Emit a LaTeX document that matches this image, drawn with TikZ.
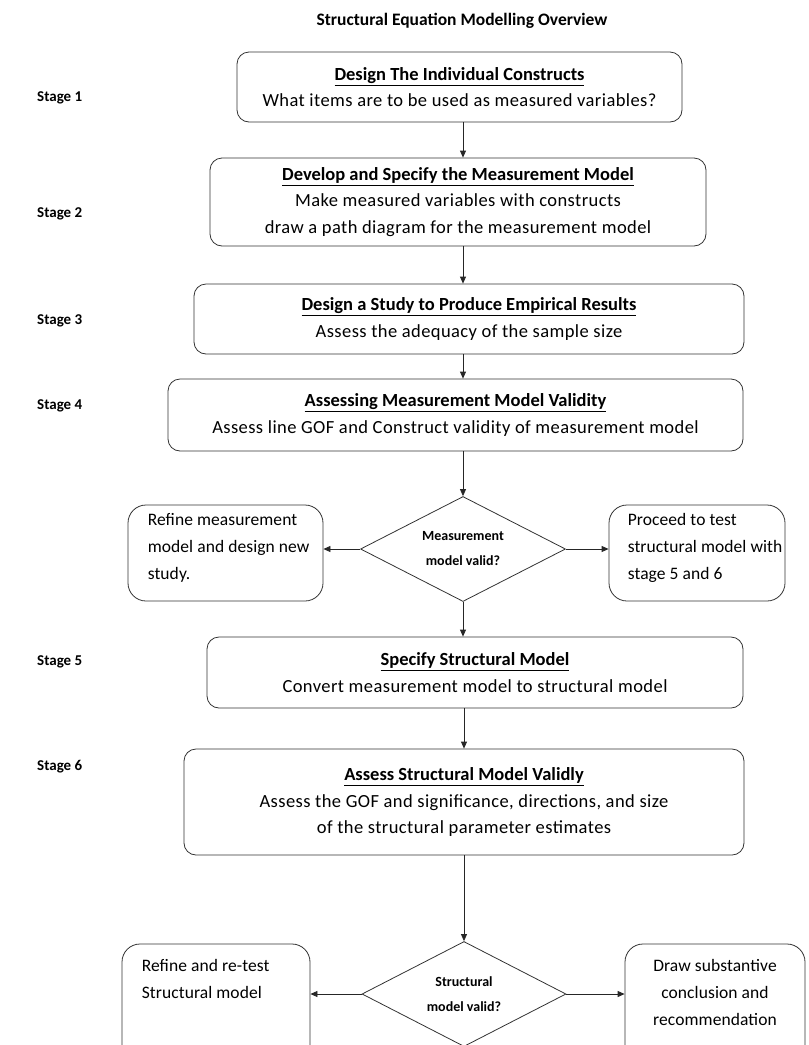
\documentclass[tikz,border=0pt]{standalone}
\usepackage{fontspec}
\setmainfont{Carlito}
\usetikzlibrary{shapes.geometric,arrows.meta}

\tikzset{
  box/.style={draw=black!80, line width=0.8pt, rounded corners=12pt,
    align=center, inner sep=0pt,
    font=\fontsize{18.5}{26.5}\selectfont\addfontfeatures{LetterSpace=2.3}},
  sidebox/.style={draw=black!80, line width=0.8pt, rounded corners=18pt, inner sep=0pt},
  sidetext/.style={align=left, anchor=north west, inner sep=0pt,
    font=\fontsize{17.5}{27}\selectfont\addfontfeatures{LetterSpace=0.5}},
  decision/.style={draw=black!80, line width=0.8pt, diamond, aspect=2, inner sep=0pt,
    align=center, font=\bfseries\fontsize{14}{25}\selectfont},
  stage/.style={font=\bfseries\fontsize{15}{18}\selectfont, anchor=west, inner sep=0pt},
  arr/.style={draw=black!85, line width=0.8pt, -{Triangle[length=7pt,width=6pt]}},
}
\newcommand{\boxtitle}[1]{{\addfontfeatures{LetterSpace=0}\textbf{\underline{#1}}}}

\begin{document}
\begin{tikzpicture}[x=1pt, y=-1pt]
\useasboundingbox (0,0) rectangle (809,1045);

% heading
\node[font=\bfseries\fontsize{17.5}{20}\selectfont] (title) at (462,21)
  {Structural Equation Modelling Overview};

% stage labels
\node[stage] (s1) at (37,98) {Stage 1};
\node[stage] (s2) at (37,214) {Stage 2};
\node[stage] (s3) at (37,321) {Stage 3};
\node[stage] (s4) at (37,406) {Stage 4};
\node[stage] (s5) at (37,662) {Stage 5};
\node[stage] (s6) at (37,767) {Stage 6};

% main stages
\node[box, minimum width=445pt, minimum height=70pt] (b1) at (459.5,87)
  {\boxtitle{Design The Individual Constructs}\\
   What items are to be used as measured variables?};
\node[box, minimum width=496pt, minimum height=88pt] (b2) at (458,202)
  {\boxtitle{Develop and Specify the Measurement Model}\\
   Make measured variables with constructs\\
   draw a path diagram for the measurement model};
\node[box, minimum width=550pt, minimum height=70pt] (b3) at (469,319)
  {\boxtitle{Design a Study to Produce Empirical Results}\\
   Assess the adequacy of the sample size};
\node[box, minimum width=575pt, minimum height=72pt] (b4) at (455.5,415)
  {\boxtitle{Assessing Measurement Model Validity}\\
   Assess line GOF and Construct validity of measurement model};

% first decision
\node[decision, minimum width=205pt, minimum height=105pt] (d1) at (463,549)
  {Measurement\\model valid?};
\node[sidebox, minimum width=195pt, minimum height=96pt] (l1) at (225.5,553) {};
\node[sidetext] (l1t) at ([xshift=20pt,yshift=-9pt]l1.north west)
  {Refine measurement\\model and design new\\study.};
\node[sidebox, minimum width=176pt, minimum height=96pt] (r1) at (697,553) {};
\node[sidetext] (r1t) at ([xshift=19pt,yshift=-9pt]r1.north west)
  {Proceed to test\\structural model with\\stage 5 and 6};

% structural stages
\node[box, minimum width=536pt, minimum height=71pt] (b5) at (475,672.5)
  {\boxtitle{Specify Structural Model}\\
   Convert measurement model to structural model};
\node[box, minimum width=560pt, minimum height=106pt] (b6) at (464,802)
  {\boxtitle{Assess Structural Model Validly}\\
   Assess the GOF and significance, directions, and size\\
   of the structural parameter estimates};

% second decision
\node[decision, minimum width=204pt, minimum height=105pt] (d2) at (464,994)
  {Structural\\model valid?};
\node[sidebox, minimum width=188pt, minimum height=120pt] (l2) at (216,1004) {};
\node[sidetext] (l2t) at ([xshift=20pt,yshift=-16pt]l2.north west)
  {Refine and re-test\\Structural model};
\node[sidebox, minimum width=180pt, minimum height=120pt] (r2) at (715,1004) {};
\node[sidetext, align=center, anchor=north] (r2t) at ([yshift=-16pt]r2.north)
  {Draw substantive\\conclusion and\\recommendation};

% connectors
\draw[arr] (b1.south -| d1.north) -- (b2.north -| d1.north);
\draw[arr] (b2.south -| d1.north) -- (b3.north -| d1.north);
\draw[arr] (b3.south -| d1.north) -- (b4.north -| d1.north);
\draw[arr] (b4.south -| d1.north) -- (d1.north);
\draw[arr] (d1.west) -- (l1.east |- d1.west);
\draw[arr] (d1.east) -- (r1.west |- d1.east);
\draw[arr] (d1.south) -- (b5.north -| d1.south);
\draw[arr] (b5.south -| d2.north) -- (b6.north -| d2.north);
\draw[arr] (b6.south -| d2.north) -- (d2.north);
\draw[arr] (d2.west) -- (l2.east |- d2.west);
\draw[arr] (d2.east) -- (r2.west |- d2.east);
\end{tikzpicture}
\end{document}
